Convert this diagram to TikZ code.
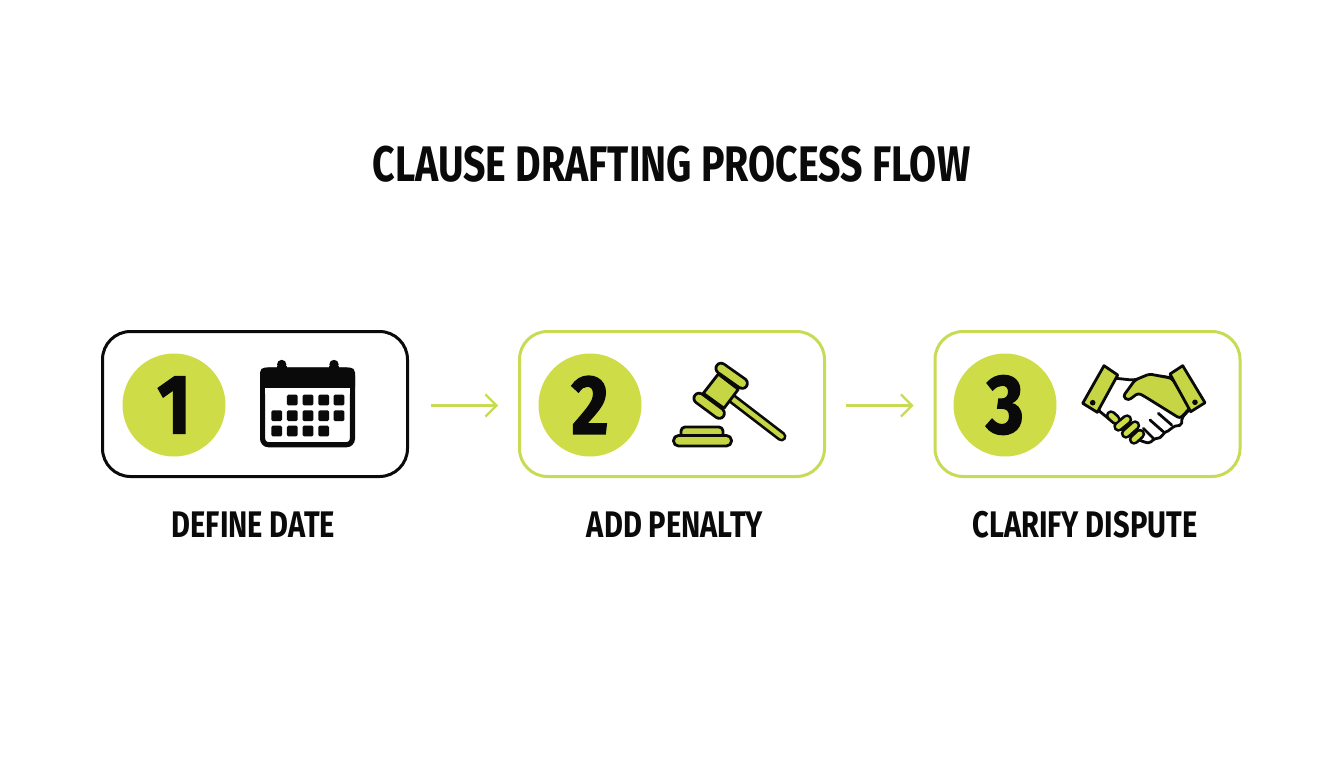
\documentclass[tikz,border=0pt]{standalone}
\usepackage{fontspec}
\setmainfont{Fira Sans}
\newfontfamily\condfont[FakeStretch=0.785]{Fira Sans}
\newfontfamily\digitfont[FakeStretch=0.86,FakeBold=1.6]{Fira Sans}
\definecolor{lime}{HTML}{CEDD47}
\definecolor{limeb}{HTML}{C5D544}
\definecolor{limeline}{HTML}{C9DB55}
\definecolor{ink}{HTML}{0A0A0A}
\usetikzlibrary{arrows.meta}
\tikzset{
  card/.style={draw=#1,line width=3pt,rounded corners=28pt,minimum width=305pt,minimum height=145pt,fill=white,inner sep=0pt},
  badge/.style={circle,fill=lime,minimum size=103pt,inner sep=0pt,font=\digitfont\bfseries\fontsize{84}{84}\selectfont,text=ink},
  caption/.style={font=\condfont\bfseries\fontsize{37}{37}\selectfont,text=ink,inner sep=0pt},
  flow/.style={draw=limeline,line width=2.2pt,shorten <=#1,shorten >=20pt,-{Straight Barb[length=11pt,width=22pt,line width=2.2pt]}},
  icon/.style={draw=ink,line width=2.8pt,line join=round,fill=limeb},
  fingerout/.style={ink,line width=10.5pt,line cap=round},
  fingerin/.style={lime,line width=5pt,line cap=round},
}
\begin{document}
\begin{tikzpicture}[x=1pt,y=-1pt]
\useasboundingbox (0,0) rectangle (1344,768);
\fill[white] (0,0) rectangle (1344,768);
\node[font=\condfont\bfseries\fontsize{50}{50}\selectfont,text=ink,inner sep=0pt] (title) at (671.5,164) {CLAUSE DRAFTING PROCESS FLOW};
\node[card=ink] (b1) at (255,404) {};
\node[card=limeline] (b2) at (672,404) {};
\node[card=limeline] (b3) at (1087.5,404) {};
\node[badge] (n1) at (174,405) {1};
\node[badge] (n2) at (590,405) {2};
\node[badge] (n3) at (1005,405) {3};
\draw[flow=22pt] ([yshift=-1.5pt]b1.east) -- ([yshift=-1.5pt]b2.west);
\draw[flow=20pt] ([yshift=-1.5pt]b2.east) -- ([yshift=-1.5pt]b3.west);
\node[caption] (c1) at (253.5,525) {DEFINE DATE};
\node[caption] (c2) at (675,525) {ADD PENALTY};
\node[caption] (c3) at (1085,525) {CLARIFY DISPUTE};
% calendar
\fill[ink] (277,366) rectangle (286.5,372);
\fill[ink] (281.7,364.5) circle (4.7);
\fill[ink] (329.3,366) rectangle (338.7,372);
\fill[ink] (334,364.5) circle (4.7);
\draw[ink,line width=5.2pt,rounded corners=6pt,fill=white] (262.6,370) rectangle (352.4,444.7);
\fill[ink,rounded corners=5pt] (260,367.5) rectangle (355,392);
\fill[white] (265.2,388) rectangle (349.8,394);
\foreach \c/\r in {292.3/400,308/400,323.7/400,339/400,276.7/415.7,292.3/415.7,308/415.7,323.7/415.7,339/415.7,276.7/431,292.3/431,308/431,323.7/431}
  \fill[ink,rounded corners=1.5pt] (\c-5.4,\r-5.4) rectangle (\c+5.4,\r+5.4);
% gavel
\draw[ink,line width=10pt,line cap=round] (731.7,398.3) -- (781.5,436.5);
\draw[limeb,line width=4.6pt,line cap=round] (731.7,398.3) -- (781.5,436.5);
\draw[icon] (718.3,374) -- (738.3,389.3) -- (724,408.3) -- (703.3,393.3) -- cycle;
\draw[ink,line width=13pt,line cap=round] (721,368.3) -- (742.3,383.3);
\draw[limeb,line width=7.4pt,line cap=round] (721,368.3) -- (742.3,383.3);
\draw[ink,line width=13pt,line cap=round] (699,398.3) -- (719.3,413.3);
\draw[limeb,line width=7.4pt,line cap=round] (699,398.3) -- (719.3,413.3);
\draw[icon,rounded corners=4pt] (681,438) -- (681,427) -- (723,427) -- (723,438);
\draw[icon,rounded corners=5pt] (673.5,435.5) rectangle (731.5,446);
% handshake
\draw[icon,fill=white,rounded corners=2pt] (1113,378) -- (1132,380) -- (1160,376) -- (1172,378) -- (1189,410) -- (1181.7,418) -- (1181.7,425) -- (1173,426.5) -- (1170,430) -- (1163,433.3) -- (1161.7,437.3) -- (1153,439.3) -- (1150,443.3) -- (1144,442) -- (1130,436) -- (1098,410) -- cycle;
\draw[icon,rounded corners=3pt] (1172,378.3) -- (1149.3,374) -- (1135,380) -- (1123,396.5) -- (1128.3,400.5) -- (1138.3,393) -- (1145,396.7) -- (1180,418.5) -- (1190,408) -- cycle;
\draw[ink,line width=2.8pt,line cap=round] (1158.3,413.3) -- (1171.7,425);
\draw[ink,line width=2.8pt,line cap=round] (1150,420) -- (1163.3,431.7);
\draw[ink,line width=2.8pt,line cap=round] (1143.3,428.3) -- (1153.3,438.3);
% fingers
\draw[fingerout] (1111,415.5) -- (1115.5,419.5);
\draw[fingerout] (1118.5,426.5) -- (1127,419.5);
\draw[fingerout] (1126,433.5) -- (1135,425.5);
\draw[fingerout] (1134,439.5) -- (1140,434);
\draw[fingerin] (1111,415.5) -- (1115.5,419.5);
\draw[fingerin] (1118.5,426.5) -- (1127,419.5);
\draw[fingerin] (1126,433.5) -- (1135,425.5);
\draw[fingerin] (1134,439.5) -- (1140,434);
% cuffs
\draw[icon] (1104,365.7) -- (1117.7,375) -- (1097.3,412.3) -- (1082.7,403.3) -- cycle;
\draw[icon] (1182.7,365.7) -- (1170,374) -- (1190.7,411.7) -- (1205,402.7) -- cycle;
\fill[ink] (1092.7,402.7) circle (2.8);
\fill[ink] (1195,402.3) circle (2.8);
\end{tikzpicture}
\end{document}
